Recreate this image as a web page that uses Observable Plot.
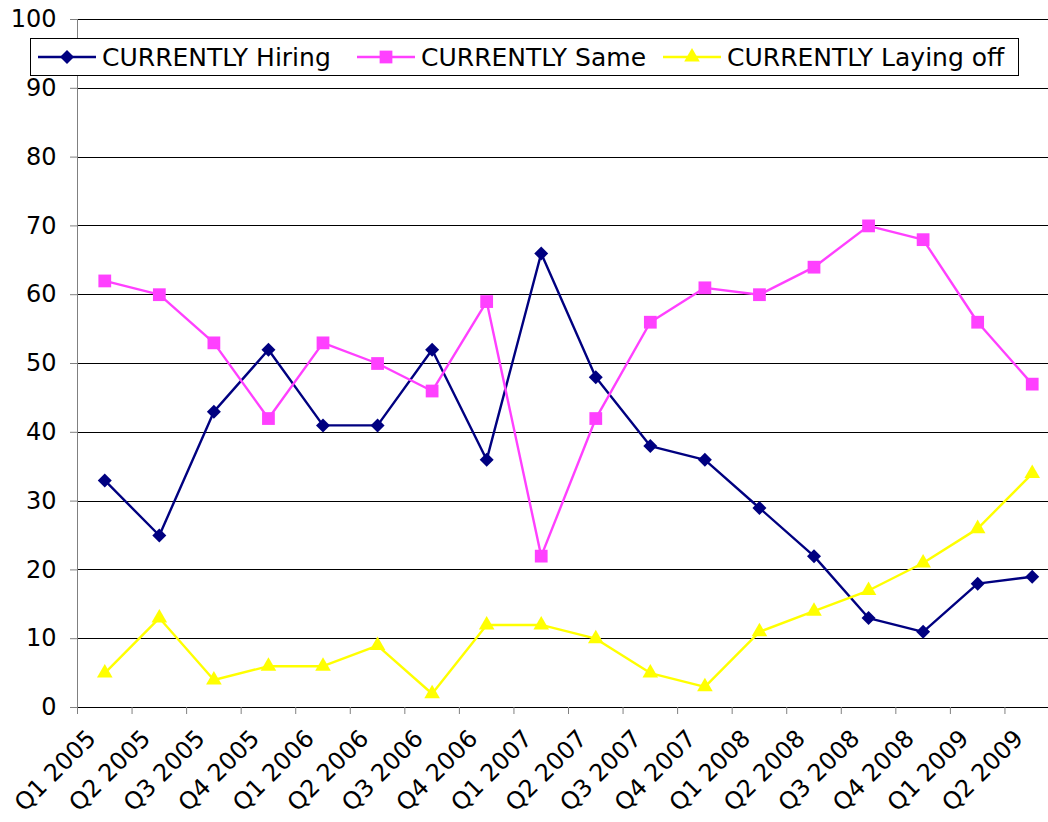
<!DOCTYPE html>
<html>
<head>
<meta charset="utf-8">
<script src="https://cdn.jsdelivr.net/npm/d3@7"></script>
<script src="https://cdn.jsdelivr.net/npm/@observablehq/plot@0.6"></script>
<style>
  html, body { margin: 0; padding: 0; background: #fff; }
  #wrap { position: relative; width: 1048px; height: 822px; overflow: hidden; font-family: "DejaVu Sans", Verdana, sans-serif; }
  #legend { position: absolute; left: 30px; top: 38px; width: 987px; height: 36px; border: 1px solid #000; background: #fff; }
  .item { position: absolute; top: 0; height: 36px; display: flex; align-items: center; font-size: 25px; color: #000; white-space: nowrap; }
  .item svg { margin-right: 6px; }
</style>
</head>
<body>
<div id="wrap"></div>
<script>
const quarters = ["Q1 2005","Q2 2005","Q3 2005","Q4 2005","Q1 2006","Q2 2006","Q3 2006","Q4 2006","Q1 2007","Q2 2007","Q3 2007","Q4 2007","Q1 2008","Q2 2008","Q3 2008","Q4 2008","Q1 2009","Q2 2009"];
const hiring = [33,25,43,52,41,41,52,36,66,48,38,36,29,22,13,11,18,19];
const same = [62,60,53,42,53,50,46,59,22,42,56,61,60,64,70,68,56,47];
const layingOff = [5,13,4,6,6,9,2,12,12,10,5,3,11,14,17,21,26,34];
const seriesNames = ["CURRENTLY Hiring","CURRENTLY Same","CURRENTLY Laying off"];
const seriesColors = ["#000080","#ff40ff","#ffff00"];
const seriesSymbols = ["diamond2","square","triangle"];
const yTicks = [0,10,20,30,40,50,60,70,80,90,100];

const valuesBySeries = [hiring, same, layingOff];
const rows = [];
valuesBySeries.forEach((vals, s) => vals.forEach((v, i) => rows.push({series: seriesNames[s], quarter: quarters[i], value: v})));

const bandHalf = (1059 - 77) / quarters.length / 2;
const markerR = [6.3, 7.2, 5.8];

const chart = Plot.plot({
  width: 1048,
  height: 822,
  marginTop: 19,
  marginBottom: 115,
  marginLeft: 77,
  marginRight: 0,
  style: {fontFamily: "DejaVu Sans, Verdana, sans-serif", fontSize: "24px", background: "#fff", overflow: "visible"},
  x: {type: "band", domain: quarters, range: [77, 1059], padding: 0, round: false, label: null},
  y: {domain: [0, 100], ticks: yTicks, label: null},
  color: {domain: seriesNames, range: seriesColors},
  symbol: {domain: seriesNames, range: seriesSymbols},
  marks: [
    Plot.ruleY(yTicks.filter(d => d > 0), {stroke: "#000", strokeWidth: 1, shapeRendering: "crispEdges"}),
    Plot.ruleY([0], {stroke: "#000", strokeWidth: 1, shapeRendering: "crispEdges"}),
    Plot.ruleX([0], {x: () => quarters[0], dx: -bandHalf, y1: 0, y2: 100, stroke: "#808080", strokeWidth: 1, shapeRendering: "crispEdges"}),
    Plot.axisY({ticks: yTicks, tickSize: 7, tickPadding: 14, stroke: "#808080", fontSize: 24, fill: "#000"}),
    Plot.axisX({tickSize: 7, text: null, dx: -bandHalf, stroke: "#808080"}),
    Plot.axisX({tickSize: 0, tickPadding: 27, tickRotate: -45, dx: -13, fontSize: 24, fill: "#000"}),
    Plot.line(rows, {x: "quarter", y: "value", z: "series", stroke: "series", strokeWidth: 2.4}),
    ...seriesNames.map((name, s) => Plot.dot(rows.filter(d => d.series === name), {x: "quarter", y: "value", symbol: "series", fill: "series", r: markerR[s], stroke: "none"}))
  ]
});

const wrap = document.getElementById("wrap");
wrap.appendChild(chart);

const legend = document.createElement("div");
legend.id = "legend";
const itemLefts = [7, 326, 632];
seriesNames.forEach((name, i) => {
  const it = document.createElement("div");
  it.className = "item";
  it.style.left = itemLefts[i] + "px";
  const sym = d3.symbol().type(i === 0 ? d3.symbolDiamond2 : i === 1 ? d3.symbolSquare : d3.symbolTriangle).size(Math.PI * markerR[i] * markerR[i])();
  it.innerHTML = `<svg width="58" height="20" viewBox="0 0 58 20"><line x1="0" y1="10" x2="58" y2="10" stroke="${seriesColors[i]}" stroke-width="2.4"/><path d="${sym}" transform="translate(29,10)" fill="${seriesColors[i]}"/></svg><span>${name}</span>`;
  legend.appendChild(it);
});
wrap.appendChild(legend);
</script>
</body>
</html>
